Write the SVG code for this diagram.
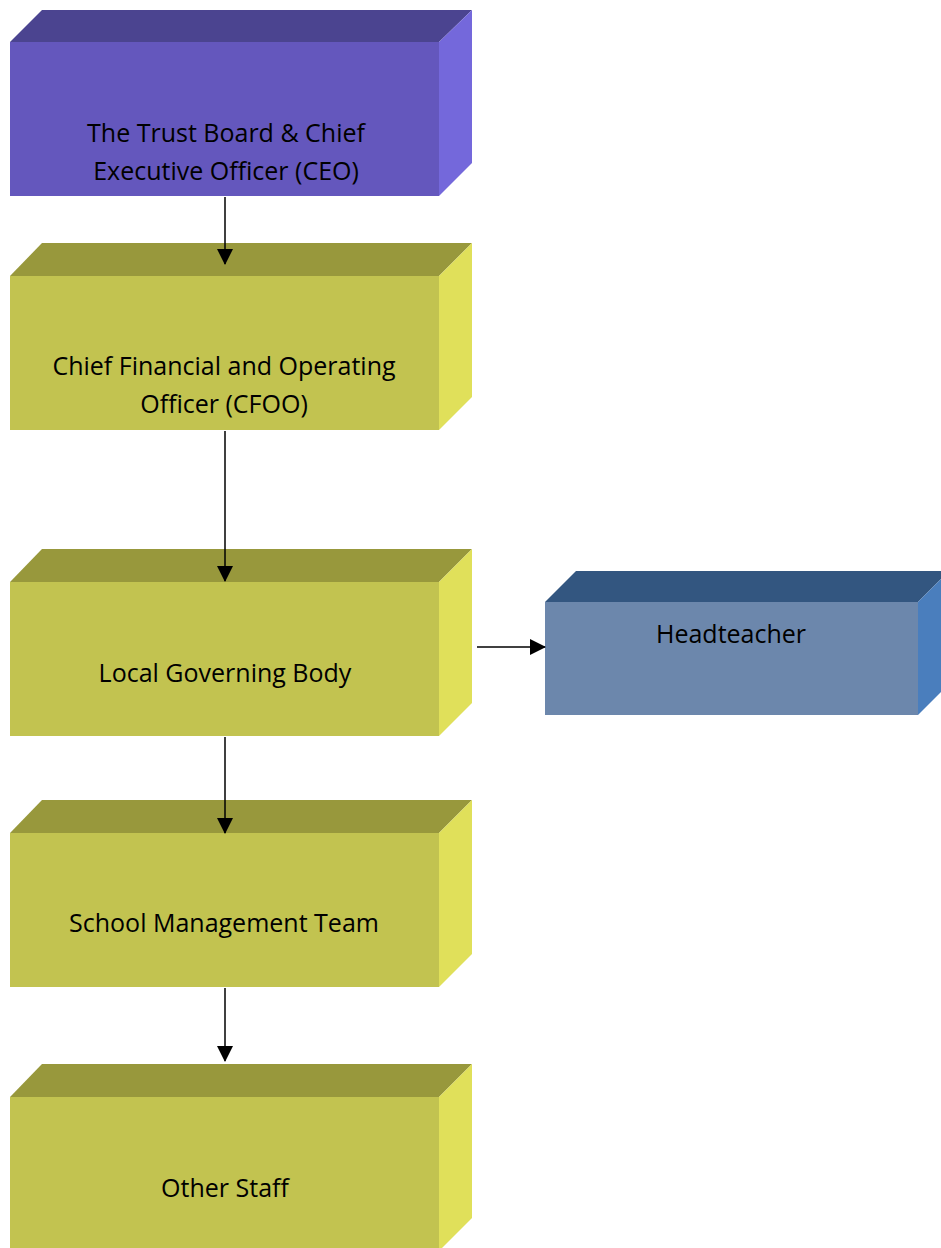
<svg xmlns="http://www.w3.org/2000/svg" width="941" height="1248" viewBox="0 0 941 1248">
<defs>
<style>
.lbl{font-family:"Open Sans","Noto Sans","Liberation Sans",sans-serif;font-size:25px;fill:#000;text-anchor:middle}
.conn{stroke:#000;stroke-width:1.5;fill:none}
.p-front{fill:#6457BD}.p-top{fill:#4B4490}.p-side{fill:#7468DB}
.y-front{fill:#C2C350}.y-top{fill:#98983C}.y-side{fill:#E0E05A}
.b-front{fill:#6C87AC}.b-top{fill:#335680}.b-side{fill:#4A7EBD}
</style>
<marker id="arr" viewBox="0 0 16 16" refX="15" refY="8" markerWidth="16" markerHeight="16" markerUnits="userSpaceOnUse" orient="auto">
<path d="M0,0 L16,8 L0,16 Z" fill="#000"/>
</marker>
</defs>
<rect width="941" height="1248" fill="#fff"/>
<g id="node-ceo">
<polygon class="p-top" points="10,42 42,10 472,10 439,42"/>
<polygon class="p-side" points="439,42 472,10 472,163 439,196"/>
<rect class="p-front" x="10" y="42" width="429" height="154"/>
<text class="lbl" x="226" y="142">The Trust Board &amp; Chief</text>
<text class="lbl" x="226" y="180">Executive Officer (CEO)</text>
</g>
<g id="node-cfoo">
<polygon class="y-top" points="10,276 42,243 472,243 439,276"/>
<polygon class="y-side" points="439,276 472,243 472,397 439,430"/>
<rect class="y-front" x="10" y="276" width="429" height="154"/>
<text class="lbl" x="224" y="375">Chief Financial and Operating</text>
<text class="lbl" x="224" y="413">Officer (CFOO)</text>
</g>
<g id="node-lgb">
<polygon class="y-top" points="10,582 42,549 472,549 439,582"/>
<polygon class="y-side" points="439,582 472,549 472,703 439,736"/>
<rect class="y-front" x="10" y="582" width="429" height="154"/>
<text class="lbl" x="225" y="682">Local Governing Body</text>
</g>
<g id="node-headteacher">
<polygon class="b-top" points="545,602 576,571 949,571 918,602"/>
<polygon class="b-side" points="918,602 949,571 949,684 918,715"/>
<rect class="b-front" x="545" y="602" width="373" height="113"/>
<text class="lbl" x="731" y="643">Headteacher</text>
</g>
<g id="node-smt">
<polygon class="y-top" points="10,833 42,800 472,800 439,833"/>
<polygon class="y-side" points="439,833 472,800 472,954 439,987"/>
<rect class="y-front" x="10" y="833" width="429" height="154"/>
<text class="lbl" x="224" y="932">School Management Team</text>
</g>
<g id="node-staff">
<polygon class="y-top" points="10,1097 42,1064 472,1064 439,1097"/>
<polygon class="y-side" points="439,1097 472,1064 472,1218 439,1251"/>
<rect class="y-front" x="10" y="1097" width="429" height="154"/>
<text class="lbl" x="225" y="1197">Other Staff</text>
</g>
<g id="connectors">
<line class="conn" x1="225" y1="197" x2="225" y2="264" marker-end="url(#arr)"/>
<line class="conn" x1="225" y1="431" x2="225" y2="581" marker-end="url(#arr)"/>
<line class="conn" x1="225" y1="737" x2="225" y2="833" marker-end="url(#arr)"/>
<line class="conn" x1="225" y1="988" x2="225" y2="1061" marker-end="url(#arr)"/>
<line class="conn" x1="477" y1="647" x2="545" y2="647" marker-end="url(#arr)"/>
</g>
</svg>
